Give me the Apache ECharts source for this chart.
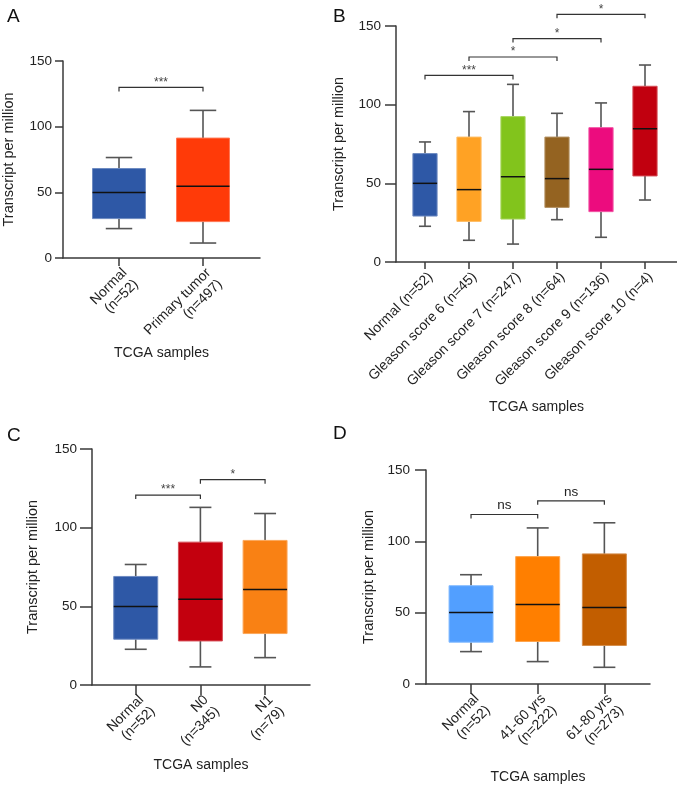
<!DOCTYPE html>
<html>
<head>
<meta charset="utf-8">
<script src="https://cdn.jsdelivr.net/npm/echarts@6/dist/echarts.min.js"></script>
<style>
html,body{margin:0;padding:0;background:#fff;}
#chart{width:677px;height:787px;}
</style>
</head>
<body>
<div id="chart"></div>
<script>
// ---------- Panel A ----------
const A_categories = ['Normal\n(n=52)', 'Primary tumor\n(n=497)'];
const A_min    = [22.4, 11.4];
const A_q1     = [30.0, 27.7];
const A_median = [49.8, 54.7];
const A_q3     = [68.1, 91.3];
const A_max    = [76.5, 112.4];
const A_colors = ['#2E58A6', '#FF3A08'];
const A_bracketFrom  = [0];
const A_bracketTo    = [1];
const A_bracketLevel = [129.9];
const A_bracketLabel = ['***'];

// ---------- Panel B ----------
const B_categories = ['Normal (n=52)', 'Gleason score 6 (n=45)', 'Gleason score 7 (n=247)',
  'Gleason score 8 (n=64)', 'Gleason score 9 (n=136)', 'Gleason score 10 (n=4)'];
const B_min    = [22.7, 13.8, 11.4, 26.9, 15.7, 39.4];
const B_q1     = [29.2, 25.8, 27.3, 34.7, 32.0, 54.7];
const B_median = [50.0, 46.0, 54.2, 53.0, 58.9, 84.7];
const B_q3     = [68.9, 79.4, 92.4, 79.4, 85.4, 111.7];
const B_max    = [76.3, 95.6, 112.9, 94.5, 101.1, 125.2];
const B_colors = ['#2E58A6', '#FFA224', '#82C41C', '#946321', '#EC0C7E', '#C1000F'];
const B_bracketFrom  = [0, 1, 2, 3];
const B_bracketTo    = [2, 3, 4, 5];
const B_bracketLevel = [118.6, 130.3, 142.0, 157.4];
const B_bracketLabel = ['***', '*', '*', '*'];

// ---------- Panel C ----------
const C_categories = ['Normal\n(n=52)', 'N0\n(n=345)', 'N1\n(n=79)'];
const C_min    = [22.7, 11.5, 17.4];
const C_q1     = [29.1, 28.0, 32.7];
const C_median = [49.9, 54.5, 60.7];
const C_q3     = [69.0, 90.8, 91.9];
const C_max    = [76.6, 112.9, 109.0];
const C_colors = ['#2E58A6', '#C3000E', '#F98114'];
const C_bracketFrom  = [0, 1];
const C_bracketTo    = [1, 2];
const C_bracketLevel = [120.7, 130.5];
const C_bracketLabel = ['***', '*'];

// ---------- Panel D ----------
const D_categories = ['Normal\n(n=52)', '41-60 yrs\n(n=222)', '61-80 yrs\n(n=273)'];
const D_min    = [22.7, 15.7, 11.7];
const D_q1     = [29.3, 29.8, 27.0];
const D_median = [50.2, 55.8, 53.7];
const D_q3     = [68.9, 89.3, 91.2];
const D_max    = [76.6, 109.4, 113.0];
const D_colors = ['#529FFF', '#FF7F00', '#C25E00'];
const D_bracketFrom  = [0, 1];
const D_bracketTo    = [1, 2];
const D_bracketLevel = [118.8, 128.4];
const D_bracketLabel = ['ns', 'ns'];

const Y_TICKS = [0, 50, 100, 150];
const X_TITLE = 'TCGA samples';
const Y_TITLE = 'Transcript per million';

// ---------------------------------------------------------------
const FONT = "'Liberation Sans', Arial, Helvetica, sans-serif";
const AXIS_COLOR = '#3a3a3a';
const TEXT_COLOR = '#222';

function lighten(hex, t) {
  const n = parseInt(hex.slice(1), 16);
  const r = (n >> 16) & 255, g = (n >> 8) & 255, b = n & 255;
  const f = v => Math.round(v + (255 - v) * t);
  return 'rgb(' + f(r) + ',' + f(g) + ',' + f(b) + ')';
}

const panels = [
  { letter: 'A', cats: A_categories, mn: A_min, q1: A_q1, md: A_median, q3: A_q3, mx: A_max, colors: A_colors,
    bf: A_bracketFrom, bt: A_bracketTo, bl: A_bracketLevel, bs: A_bracketLabel,
    frame: { left: 63, top: 61, width: 197, height: 197 },
    data:  { left: 77, top: 61, width: 168, height: 197 },
    boxFrac: 0.63, yTick: 8, yMargin: 11, xTick: 8, xMargin: 7, yGap: 47, xGap: 88,
    letterPos: { left: 2, top: 2 } },
  { letter: 'B', cats: B_categories, mn: B_min, q1: B_q1, md: B_median, q3: B_q3, mx: B_max, colors: B_colors,
    bf: B_bracketFrom, bt: B_bracketTo, bl: B_bracketLevel, bs: B_bracketLabel,
    frame: { left: 396, top: 26, width: 281, height: 236 },
    data:  { left: 403, top: 26, width: 264, height: 236 },
    boxFrac: 0.55, yTick: 11, yMargin: 15, xTick: 7, xMargin: 7, yGap: 50, xGap: 138,
    letterPos: { left: 328, top: 2 } },
  { letter: 'C', cats: C_categories, mn: C_min, q1: C_q1, md: C_median, q3: C_q3, mx: C_max, colors: C_colors,
    bf: C_bracketFrom, bt: C_bracketTo, bl: C_bracketLevel, bs: C_bracketLabel,
    frame: { left: 92, top: 449, width: 218, height: 236 },
    data:  { left: 103.4, top: 449, width: 194, height: 236 },
    boxFrac: 0.68, yTick: 12, yMargin: 15, xTick: 10, xMargin: 7, yGap: 52, xGap: 73,
    letterPos: { left: 2, top: 421 } },
  { letter: 'D', cats: D_categories, mn: D_min, q1: D_q1, md: D_median, q3: D_q3, mx: D_max, colors: D_colors,
    bf: D_bracketFrom, bt: D_bracketTo, bl: D_bracketLevel, bs: D_bracketLabel,
    frame: { left: 426, top: 470, width: 224, height: 214 },
    data:  { left: 437.7, top: 470, width: 200, height: 214 },
    boxFrac: 0.66, yTick: 11, yMargin: 16, xTick: 10, xMargin: 7, yGap: 50, xGap: 86,
    letterPos: { left: 328, top: 419 } }
];

const grid = [], xAxis = [], yAxis = [], series = [], title = [];

panels.forEach((p, k) => {
  const gFrame = grid.length;
  grid.push(Object.assign({ containLabel: false }, p.frame));
  const gData = grid.length;
  grid.push(Object.assign({ containLabel: false }, p.data));

  title.push({ text: p.letter, left: p.letterPos.left, top: p.letterPos.top,
    textStyle: { fontFamily: FONT, fontSize: 19, fontWeight: 'normal', color: '#111' } });

  // frame axes
  xAxis.push({ gridIndex: gFrame, type: 'value', min: 0, max: 1,
    axisLine: { show: true, lineStyle: { color: AXIS_COLOR, width: 1.5 } },
    axisTick: { show: false }, axisLabel: { show: false }, splitLine: { show: false },
    name: X_TITLE, nameLocation: 'middle', nameGap: p.xGap,
    nameTextStyle: { fontFamily: FONT, fontSize: 14, color: TEXT_COLOR } });
  yAxis.push({ gridIndex: gFrame, type: 'value', min: 0, max: 150, interval: 50,
    axisLine: { show: true, lineStyle: { color: AXIS_COLOR, width: 1.5 } },
    axisTick: { show: true, length: p.yTick, lineStyle: { color: AXIS_COLOR, width: 1.5 } },
    axisLabel: { fontFamily: FONT, fontSize: 13.5, color: TEXT_COLOR, margin: p.yMargin,
      formatter: v => (Y_TICKS.indexOf(v) >= 0 ? String(v) : '') },
    splitLine: { show: false },
    name: Y_TITLE, nameLocation: 'middle', nameGap: p.yGap,
    nameTextStyle: { fontFamily: FONT, fontSize: 14.5, color: TEXT_COLOR } });

  // data axes
  const xD = xAxis.length;
  xAxis.push({ gridIndex: gData, type: 'category', data: p.cats, boundaryGap: true,
    axisLine: { show: false },
    axisTick: { show: true, alignWithLabel: true, length: p.xTick, lineStyle: { color: AXIS_COLOR, width: 1.5 } },
    axisLabel: { rotate: 45, interval: 0, margin: p.xMargin, fontFamily: FONT, fontSize: 14,
      color: TEXT_COLOR, lineHeight: 16, verticalAlign: 'top' },
    splitLine: { show: false } });
  const yD = yAxis.length;
  yAxis.push({ gridIndex: gData, type: 'value', min: 0, max: 150, show: false });

  const colors = p.colors;
  const frac = p.boxFrac;
  series.push({
    type: 'custom', xAxisIndex: xD, yAxisIndex: yD, clip: false,
    encode: { x: 0, y: [1, 2, 3, 4, 5] },
    data: p.cats.map((c, i) => [i, p.mn[i], p.q1[i], p.md[i], p.q3[i], p.mx[i]]),
    renderItem: function (params, api) {
      const i = api.value(0);
      const pMin = api.coord([i, api.value(1)]);
      const pQ1 = api.coord([i, api.value(2)]);
      const pMed = api.coord([i, api.value(3)]);
      const pQ3 = api.coord([i, api.value(4)]);
      const pMax = api.coord([i, api.value(5)]);
      const band = api.size([1, 0])[0];
      const w = band * frac;
      const x = pMin[0];
      const c = colors[params.dataIndex];
      const wStyle = { stroke: '#555', lineWidth: 1.6 };
      return { type: 'group', children: [
        { type: 'line', shape: { x1: x, y1: pMax[1], x2: x, y2: pQ3[1] }, style: wStyle },
        { type: 'line', shape: { x1: x, y1: pQ1[1], x2: x, y2: pMin[1] }, style: wStyle },
        { type: 'line', shape: { x1: x - w / 4, y1: pMax[1], x2: x + w / 4, y2: pMax[1] }, style: wStyle },
        { type: 'line', shape: { x1: x - w / 4, y1: pMin[1], x2: x + w / 4, y2: pMin[1] }, style: wStyle },
        { type: 'rect', shape: { x: x - w / 2, y: pQ3[1], width: w, height: pQ1[1] - pQ3[1] },
          style: { fill: c, stroke: lighten(c, 0.3), lineWidth: 1 } },
        { type: 'line', shape: { x1: x - w / 2, y1: pMed[1], x2: x + w / 2, y2: pMed[1] },
          style: { stroke: '#111', lineWidth: 1.5 } }
      ] };
    },
    z: 2
  });

  const labels = p.bs;
  series.push({
    type: 'custom', xAxisIndex: xD, yAxisIndex: yD, clip: false,
    encode: { x: [0, 1], y: 2 },
    data: p.bf.map((f, i) => [f, p.bt[i], p.bl[i]]),
    renderItem: function (params, api) {
      const a = api.coord([api.value(0), api.value(2)]);
      const b = api.coord([api.value(1), api.value(2)]);
      const lab = labels[params.dataIndex];
      const isNs = lab === 'ns';
      return { type: 'group', children: [
        { type: 'polyline', shape: { points: [[a[0], a[1] + 4], [a[0], a[1]], [b[0], b[1]], [b[0], b[1] + 4]] },
          style: { stroke: '#333', lineWidth: 1.2, fill: null } },
        { type: 'text', x: (a[0] + b[0]) / 2, y: isNs ? a[1] - 2 : a[1] + 1,
          style: { text: lab, fontFamily: FONT, fontSize: isNs ? 13.5 : 12, fill: isNs ? '#222' : '#444',
            align: 'center', verticalAlign: 'bottom' } }
      ] };
    },
    z: 3
  });
});

const chart = echarts.init(document.getElementById('chart'), null, { renderer: 'canvas' });
chart.setOption({ animation: false, backgroundColor: '#fff', title, grid, xAxis, yAxis, series });
</script>
</body>
</html>
